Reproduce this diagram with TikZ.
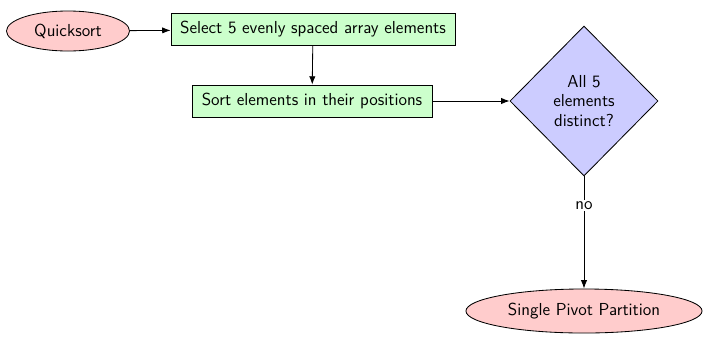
\documentclass[tikz,border=0pt]{standalone}
\usetikzlibrary{shapes.geometric,arrows.meta}
\begin{document}
\begin{tikzpicture}[x=0.72pt,y=-0.72pt,
  font=\sffamily\fontsize{12.5}{14}\selectfont,
  line width=0.6pt,
  terminal/.style={ellipse,draw,fill=red!20,inner sep=0pt},
  process/.style={rectangle,draw,fill=green!20,inner sep=0pt},
  decision/.style={diamond,draw,fill=blue!20,inner sep=0pt,align=center},
  flow/.style={draw,-{Latex[length=6pt,width=4.5pt]}}]
\useasboundingbox (0,0) rectangle (703,336);
\node[terminal,minimum width=88.6pt,minimum height=28.8pt] (start) at (68,31) {Quicksort};
\node[process,minimum width=204.5pt,minimum height=23pt] (select) at (313,29.5) {Select 5 evenly spaced array elements};
\node[process,minimum width=172.8pt,minimum height=23pt] (sort) at (312,101) {Sort elements in their positions};
\node[decision,minimum width=106.6pt,minimum height=108pt] (distinct) at (584,101) {All 5\\elements\\distinct?};
\node[terminal,minimum width=170pt,minimum height=31.7pt] (single) at (584,311) {Single Pivot Partition};
\path[flow] (start) -- (select);
\path[flow] (select) -- (sort);
\path[flow] (sort) -- (distinct);
\path[flow] (distinct) -- node[fill=white,inner sep=1pt,pos=0.26] (no) {no} (single);
\end{tikzpicture}
\end{document}
